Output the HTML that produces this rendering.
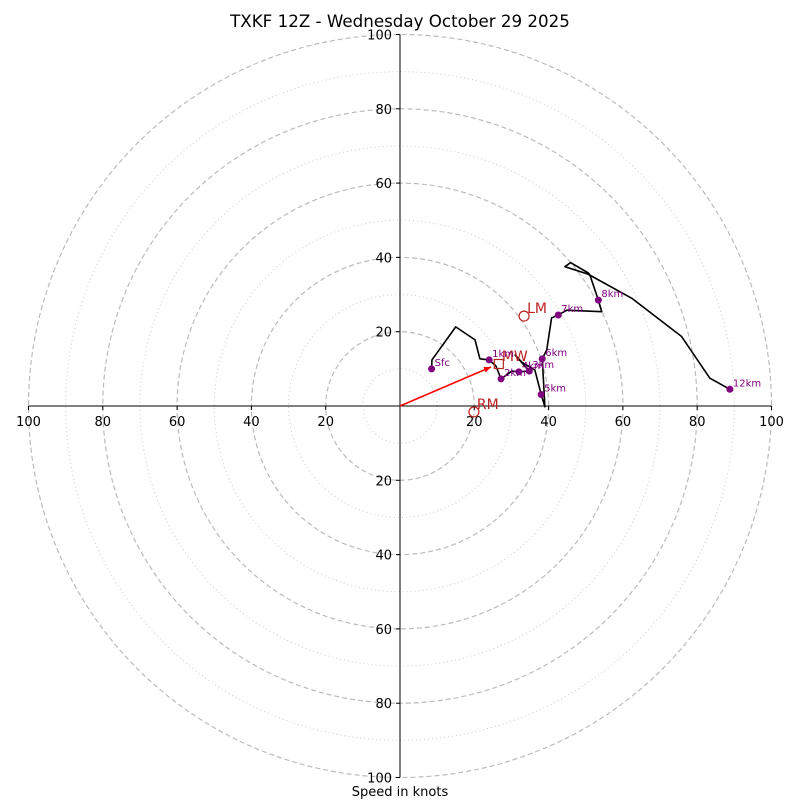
<!DOCTYPE html>
<html><head><meta charset="utf-8"><style>
html,body{margin:0;padding:0;background:#fff;}
svg{display:block;font-family:"DejaVu Sans","Liberation Sans",sans-serif;}
</style></head><body>
<svg id="chart" width="800" height="800" viewBox="0 0 800 800">
<text x="400" y="27" text-anchor="middle" font-size="16.7">TXKF 12Z - Wednesday October 29 2025</text>
<g id="grid"></g>
<g id="axes"></g>
<g id="series"></g>
<text x="400" y="796" text-anchor="middle" font-size="13">Speed in knots</text>
</svg>
<script>
const ringsMajor = [20, 40, 60, 80, 100];
const ringsMinor = [10, 30, 50, 70, 90];
const tickLabels = [20, 40, 60, 80, 100];
const profileU = [8.5,8.6,15.0,20.2,21.5,24.0,25.8,27.2,30.1,32.0,34.8,31.0,32.8,36.3,38.0,39.0,38.3,39.5,40.8,42.6,44.9,54.3,53.4,51.1,50.7,45.9,44.4,50.6,62.4,75.8,83.4,88.8];
const profileV = [10.0,12.4,21.3,17.8,12.7,12.4,10.8,7.3,9.4,9.2,9.4,13.7,11.8,9.7,3.1,-0.2,12.7,15.1,23.7,24.5,25.8,25.4,28.5,35.3,35.8,38.6,37.5,35.5,29.0,18.7,7.5,4.5];
const markerLabels = ["Sfc","1km","2km","3km","4km","5km","6km","7km","8km","12km"];
const markerU = [8.5,24.0,27.2,34.8,32.0,38.0,38.3,42.6,53.4,88.8];
const markerV = [10.0,12.4,7.3,9.4,9.2,3.1,12.7,24.5,28.5,4.5];
const motionLabels = ["LM","RM","MW"];
const motionU = [33.4,19.9,26.6];
const motionV = [24.2,-1.6,11.3];
const shearU = 24.5, shearV = 10.5;

const CX=400, CY=406, S=3.715;
const sx=u=>CX+u*S, sy=v=>CY-v*S;
const NS="http://www.w3.org/2000/svg";
function mk(tag,parent,attrs){const e=document.createElementNS(NS,tag);for(const k in attrs)e.setAttribute(k,attrs[k]);parent.appendChild(e);return e;}
const grid=document.getElementById('grid'),axes=document.getElementById('axes'),series=document.getElementById('series');

ringsMinor.forEach(r=>{const c=mk('circle',grid,{cx:CX,cy:CY,r:r*S,fill:'none',stroke:'#ccc','stroke-width':1,'stroke-dasharray':'1,3'});

});
ringsMajor.forEach(r=>{const c=mk('circle',grid,{cx:CX,cy:CY,r:r*S,fill:'none',stroke:'#bbb','stroke-width':1.2,'stroke-dasharray':'5,3'});

});

const xa=mk('line',axes,{x1:sx(-100),y1:CY,x2:sx(100),y2:CY,stroke:'#000','stroke-width':1});


const ya=mk('line',axes,{x1:CX,y1:sy(100),x2:CX,y2:sy(-100),stroke:'#000','stroke-width':1});


tickLabels.forEach(t=>{
 [1,-1].forEach(sg=>{
  const a=mk('text',axes,{x:sx(sg*t),y:CY+20,'text-anchor':'middle','font-size':13});a.textContent=t;
  
  
  mk('line',axes,{x1:sx(sg*t),y1:CY,x2:sx(sg*t),y2:CY+4,stroke:'#000'});
  const b=mk('text',axes,{x:CX-8,y:sy(sg*t)+5,'text-anchor':'end','font-size':13});b.textContent=t;
  
  
  mk('line',axes,{x1:CX-4,y1:sy(sg*t),x2:CX,y2:sy(sg*t),stroke:'#000'});
 });
});

const pts=profileU.map((u,i)=>sx(u)+','+sy(profileV[i])).join(' ');
const pl=mk('polyline',series,{points:pts,fill:'none',stroke:'#000','stroke-width':1.6,'stroke-linejoin':'round'});



const ar=mk('line',series,{x1:CX,y1:CY,x2:sx(shearU),y2:sy(shearV),stroke:'#f00','stroke-width':1.6});


const ang=Math.atan2(sy(shearV)-CY,sx(shearU)-CX),hx=sx(shearU),hy=sy(shearV);
const ah=mk('polygon',series,{points:`${hx},${hy} ${hx-7*Math.cos(ang)+3*Math.sin(ang)},${hy-7*Math.sin(ang)-3*Math.cos(ang)} ${hx-7*Math.cos(ang)-3*Math.sin(ang)},${hy-7*Math.sin(ang)+3*Math.cos(ang)}`,fill:'#f00'});



motionLabels.forEach((l,i)=>{
 const x=sx(motionU[i]),y=sy(motionV[i]);
 let m;
 if(l==='MW'){m=mk('rect',series,{x:x-4.5,y:y-4.5,width:9,height:9,fill:'none',stroke:'#b22','stroke-width':1.2});}
 else{m=mk('circle',series,{cx:x,cy:y,r:5,fill:'none',stroke:'#b22','stroke-width':1.2});}
 
 
 const t=mk('text',series,{x:x+3,y:y-3,'font-size':14,fill:'#b22'});t.textContent=l;
 
 
});

markerLabels.forEach((l,i)=>{
 const x=sx(markerU[i]),y=sy(markerV[i]);
 const c=mk('circle',series,{cx:x,cy:y,r:3.5,fill:'#800080'});
 
 
 const t=mk('text',series,{x:x+3,y:y-3,'font-size':10,fill:'#800080'});t.textContent=l;
 
 
});
</script>
</body></html>
